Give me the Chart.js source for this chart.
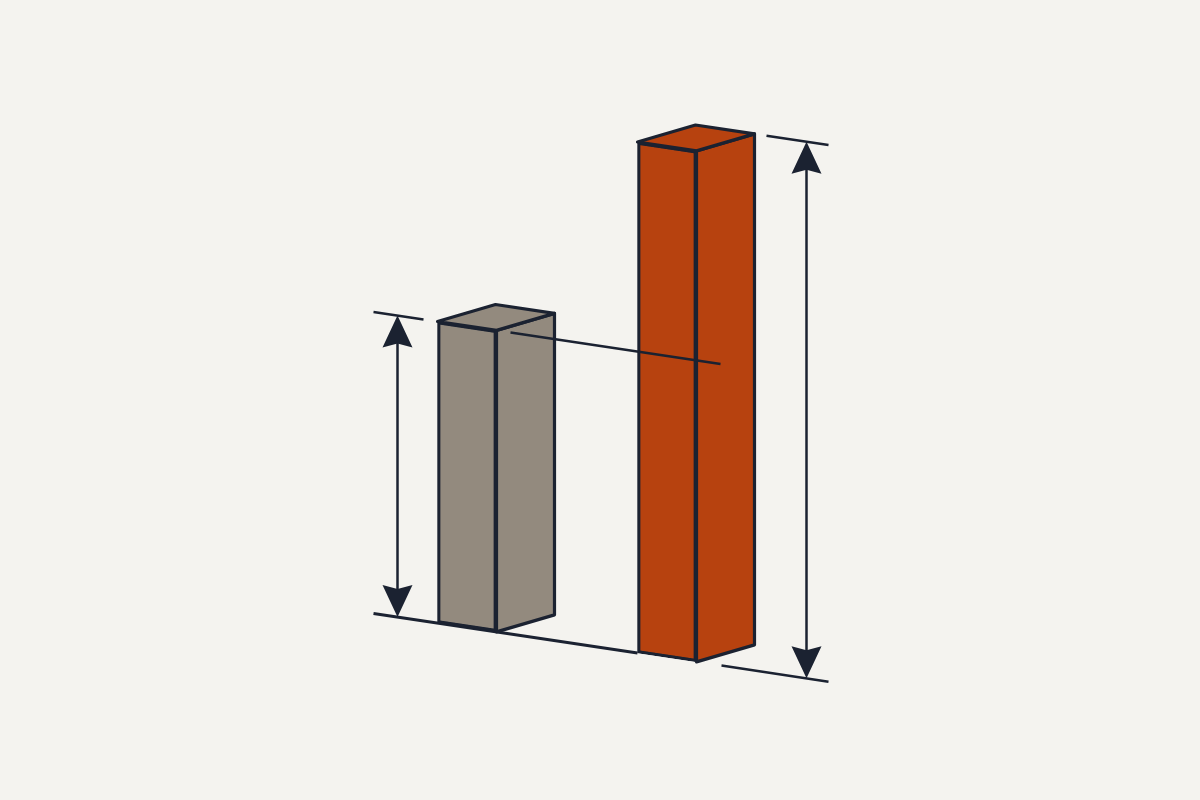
<!DOCTYPE html>
<html>
<head>
<meta charset="utf-8">
<title>Bar comparison</title>
<script src="https://cdn.jsdelivr.net/npm/chart.js@4.4.1/dist/chart.umd.min.js"></script>
<style>
    html, body { margin: 0; padding: 0; background: #f4f3ef; }
    #wrap { width: 1200px; height: 800px; position: relative; }
</style>
</head>
<body>
<div id="wrap"><canvas id="barChart"></canvas></div>
<script>
// chart data
const categories = ['Before', 'After'];
const values = [59, 100];
const barColors = ['#938a7e', '#b7420f'];

const INK = '#1b2231';
const SLOPE = 0.15;      // baseline tilt of the drawing
const DEPTH_X = 58;      // side face depth
const DEPTH_Y = -17;

// shift y by the tilt, measured from the first bar's left edge
function tilt(x, y, x0) {
    return y + SLOPE * (x - x0);
}

function poly(ctx, pts, fill) {
    ctx.beginPath();
    ctx.moveTo(pts[0][0], pts[0][1]);
    for (let i = 1; i < pts.length; i++) ctx.lineTo(pts[i][0], pts[i][1]);
    ctx.closePath();
    if (fill) {
        ctx.fillStyle = fill;
        ctx.fill();
    }
    ctx.stroke();
}

function line(ctx, x1, y1, x2, y2) {
    ctx.beginPath();
    ctx.moveTo(x1, y1);
    ctx.lineTo(x2, y2);
    ctx.stroke();
}

function arrowHead(ctx, x, tipY, dir) {
    // dir = 1 points up, -1 points down
    const len = 32, half = 15;
    ctx.beginPath();
    ctx.moveTo(x, tipY);
    ctx.lineTo(x + half, tipY + dir * len);
    ctx.lineTo(x, tipY + dir * (len - 4));
    ctx.lineTo(x - half, tipY + dir * len);
    ctx.closePath();
    ctx.fillStyle = INK;
    ctx.fill();
}

function dimension(ctx, x, top, bottom) {
    ctx.lineWidth = 2.5;
    line(ctx, x, top + 20, x, bottom - 20);
    arrowHead(ctx, x, top, 1);
    arrowHead(ctx, x, bottom, -1);
}

const box3d = {
    id: 'box3d',
    beforeDatasetsDraw(chart) {
        const ctx = chart.ctx;
        const meta = chart.getDatasetMeta(0);
        const first = meta.data[0], last = meta.data[meta.data.length - 1];
        const x0 = first.x - first.width / 2;
        const base = first.base;

        // ground line, stops at the tall bar
        ctx.save();
        ctx.strokeStyle = INK;
        ctx.lineWidth = 3;
        const gx1 = x0 - 64, gx2 = last.x - last.width / 2;
        line(ctx, gx1, tilt(gx1, base, x0), gx2, tilt(gx2, base, x0));
        ctx.restore();

        // tilt the front faces that chart.js draws
        ctx.save();
        ctx.transform(1, SLOPE, 0, 1, 0, -SLOPE * x0);
    },
    afterDatasetsDraw(chart) {
        const ctx = chart.ctx;
        ctx.restore();

        const meta = chart.getDatasetMeta(0);
        const first = meta.data[0];
        const x0 = first.x - first.width / 2;

        ctx.save();
        ctx.strokeStyle = INK;
        ctx.lineWidth = 3.2;
        ctx.lineJoin = 'round';

        meta.data.forEach((bar, i) => {
            const L = bar.x - bar.width / 2;
            const R = bar.x + bar.width / 2;
            const top = bar.y, bot = bar.base;

            // side face
            poly(ctx, [
                [R, tilt(R, top, x0)],
                [R + DEPTH_X, tilt(R, top, x0) + DEPTH_Y],
                [R + DEPTH_X, tilt(R, bot, x0) + DEPTH_Y],
                [R, tilt(R, bot, x0)]
            ], barColors[i]);

            // top face
            poly(ctx, [
                [L, tilt(L, top, x0)],
                [L + DEPTH_X, tilt(L, top, x0) + DEPTH_Y],
                [R + DEPTH_X, tilt(R, top, x0) + DEPTH_Y],
                [R, tilt(R, top, x0)]
            ], barColors[i]);
        });

        const g = meta.data[0], o = meta.data[1];
        const gL = g.x - g.width / 2, gR = g.x + g.width / 2;
        const oR = o.x + o.width / 2;

        // leader from the short bar's top across the tall bar
        ctx.lineWidth = 2.5;
        line(ctx, gR + 14, tilt(gR + 14, g.y, x0), oR + 24, tilt(oR + 24, g.y, x0));

        // left dimension (short bar)
        const ax = gL - 40;
        line(ctx, ax - 24, tilt(ax - 24, g.y, x0), gL - 14, tilt(gL - 14, g.y, x0));
        dimension(ctx, ax, tilt(ax, g.y, x0), tilt(ax, g.base, x0));

        // right dimension (tall bar), top measured at the back edge
        const bx = oR + DEPTH_X + 52;
        const backTop = x => tilt(x - DEPTH_X, o.y, x0) + DEPTH_Y;
        ctx.lineWidth = 2.5;
        line(ctx, bx - 40, backTop(bx - 40), bx + 22, backTop(bx + 22));
        line(ctx, bx - 85, tilt(bx - 85, o.base, x0), bx + 22, tilt(bx + 22, o.base, x0));
        dimension(ctx, bx, backTop(bx), tilt(bx, o.base, x0));

        ctx.restore();
    }
};

const ctx = document.getElementById('barChart').getContext('2d');
new Chart(ctx, {
    type: 'bar',
    data: {
        labels: categories,
        datasets: [{
            data: values,
            backgroundColor: barColors,
            borderColor: INK,
            borderWidth: 3.2,
            borderSkipped: false,
            barThickness: 59,
            clip: false
        }]
    },
    options: {
        responsive: true,
        maintainAspectRatio: false,
        animation: false,
        layout: { padding: { left: 367, right: 433, top: 112, bottom: 177 } },
        plugins: {
            legend: { display: false },
            tooltip: { enabled: false }
        },
        scales: {
            x: { display: false },
            y: { display: false, min: 0, max: 100 }
        }
    },
    plugins: [box3d]
});
</script>
</body>
</html>
